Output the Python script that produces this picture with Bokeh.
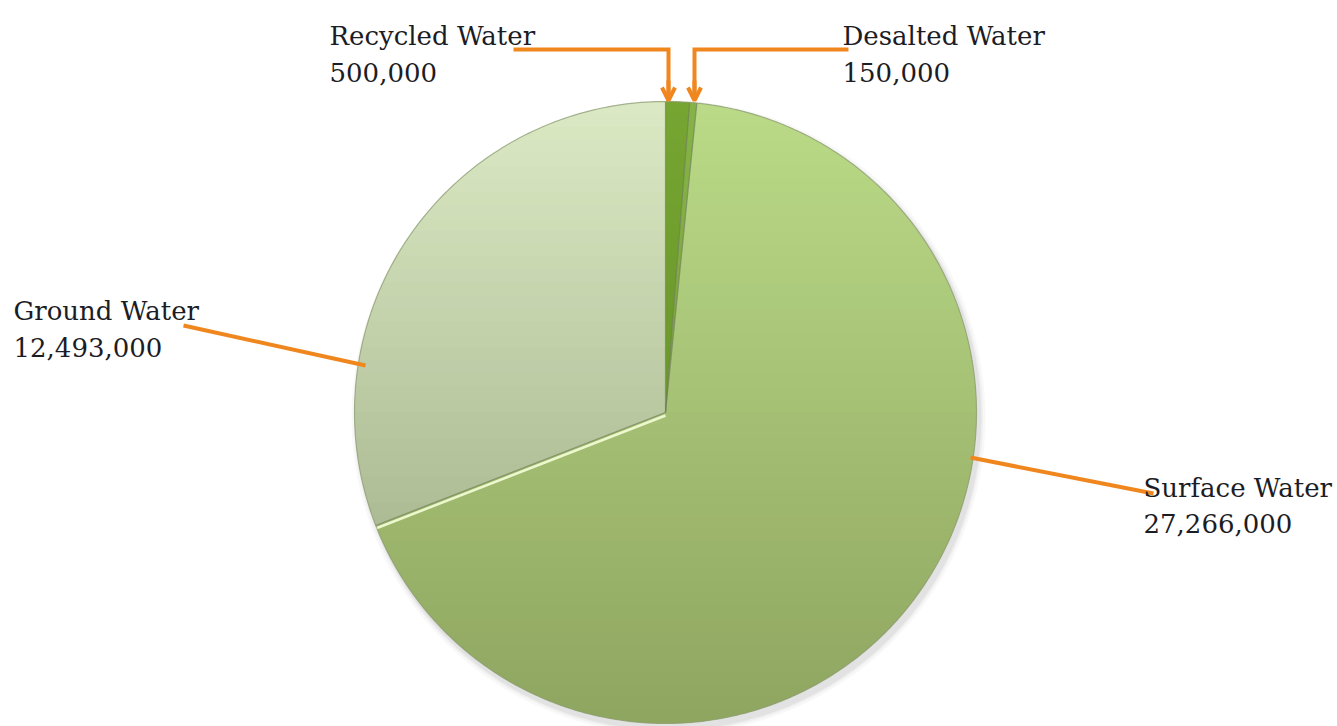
import numpy as np
from bokeh.plotting import figure
from bokeh.models import Range1d, Arrow, OpenHead
from bokeh.core.properties import value
from bokeh.embed import file_html
from bokeh.resources import INLINE

# ---------------- data ----------------
sources = ["Recycled Water", "Desalted Water", "Surface Water", "Ground Water"]
volumes = [500000, 150000, 27266000, 12493000]
# gradient colours (top, bottom) for each slice
top_colors = ["#76a532", "#86b348", "#bbdb88", "#dbeac4"]
bottom_colors = ["#5f8a22", "#6f9a32", "#8ea55f", "#98a67f"]

# ---------------- layout ----------------
W, H = 1337, 726
CX, CY, R = 665, 412, 311
ORANGE = "#F0861E"
FONT = value("DejaVu Serif")

p = figure(width=W, height=H, x_range=Range1d(0, W), y_range=Range1d(H, 0),
           x_axis_type=None, y_axis_type=None, toolbar_location=None,
           output_backend="svg", min_border=0, outline_line_color=None)
p.grid.visible = False
p.background_fill_color = "white"


def hex2rgb(h):
    h = h.lstrip("#")
    return np.array([int(h[i:i + 2], 16) for i in (0, 2, 4)], dtype=float)


def rgb2hex(c):
    c = np.clip(np.round(c), 0, 255).astype(int)
    return "#%02x%02x%02x" % tuple(c)


def wedge_poly(a0, a1):
    n = max(4, int(np.degrees(a1 - a0) * 2))
    a = np.linspace(a0, a1, n)
    pts = [(CX, CY)] + [(CX + R * np.sin(t), CY - R * np.cos(t)) for t in a]
    return pts


def clip_half(pts, yc, sign):
    out = []
    n = len(pts)
    for i in range(n):
        P = pts[i]
        Q = pts[(i + 1) % n]
        inP = sign * (P[1] - yc) >= 0
        inQ = sign * (Q[1] - yc) >= 0
        if inP:
            out.append(P)
        if inP != inQ:
            t = (yc - P[1]) / (Q[1] - P[1])
            out.append((P[0] + t * (Q[0] - P[0]), yc))
    return out


# soft shadow
for k, al in [(10, 0.05), (6, 0.07), (3, 0.10)]:
    p.circle(x=[CX + 3], y=[CY + 5], radius=R + k * 0.6, fill_color="#7a7a7a",
             fill_alpha=al, line_color=None)

total = float(sum(volumes))
fracs = np.array(volumes) / total
ends = np.cumsum(fracs) * 2 * np.pi
starts = np.concatenate([[0.0], ends[:-1]])

NB = 48
edges = np.linspace(CY - R, CY + R, NB + 1)
for i in range(len(sources)):
    poly = wedge_poly(starts[i], ends[i])
    ct, cb = hex2rgb(top_colors[i]), hex2rgb(bottom_colors[i])
    # base fill
    p.patch([q[0] for q in poly], [q[1] for q in poly],
            fill_color=rgb2hex((ct + cb) / 2), line_color=None)
    xs, ys, cols = [], [], []
    for b in range(NB):
        y0, y1 = edges[b] - 0.6, edges[b + 1] + 0.6
        c = clip_half(poly, y0, 1)
        if len(c) < 3:
            continue
        c = clip_half(c, y1, -1)
        if len(c) < 3:
            continue
        tt = ((edges[b] + edges[b + 1]) / 2 - (CY - R)) / (2 * R)
        xs.append([q[0] for q in c])
        ys.append([q[1] for q in c])
        cols.append(rgb2hex(ct + (cb - ct) * tt))
    p.patches(xs, ys, fill_color=cols, line_color=None)

# slice separators
for i in range(len(sources)):
    a = starts[i]
    ex, ey = CX + R * np.sin(a), CY - R * np.cos(a)
    p.line([CX, ex], [CY, ey], line_color="#6f7f55", line_width=1.2, line_alpha=0.7)
sa = ends[2]
ex, ey = CX + R * np.sin(sa), CY - R * np.cos(sa)
p.line([CX, ex], [CY + 3, ey + 3], line_color="#eef8cf", line_width=2.5)

# outer rim
ta = np.linspace(0, 2 * np.pi, 400)
p.line(CX + R * np.sin(ta), CY - R * np.cos(ta), line_color="#8d9b74",
       line_width=1.2, line_alpha=0.7)

# ---------------- leader lines ----------------
p.line([513, 668, 668], [49, 49, 92], line_color=ORANGE, line_width=4, line_join="miter")
p.line([848, 694, 694], [49, 49, 92], line_color=ORANGE, line_width=4, line_join="miter")
for xx in (668, 694):
    p.add_layout(Arrow(x_start=xx, y_start=80, x_end=xx, y_end=100,
                       line_color=ORANGE, line_width=4,
                       end=OpenHead(size=13, line_width=4, line_color=ORANGE)))
p.line([183, 365], [325, 365], line_color=ORANGE, line_width=4)
p.line([970, 1153], [457, 493], line_color=ORANGE, line_width=4)

# ---------------- labels ----------------
label_x = [329, 842, 1143, 13]
label_y1 = [35, 35, 487, 310]
label_y2 = [72, 72, 523, 347]
names = sources
nums = [f"{v:,}" for v in volumes]
p.text(x=label_x, y=label_y1, text=names, text_font=FONT, text_font_size="26px",
       text_color="#1c1c24", text_baseline="alphabetic", text_align="left")
p.text(x=label_x, y=label_y2, text=nums, text_font=FONT, text_font_size="26px",
       text_color="#1c1c24", text_baseline="alphabetic", text_align="left")

open("out.html", "w").write(file_html(p, INLINE))
